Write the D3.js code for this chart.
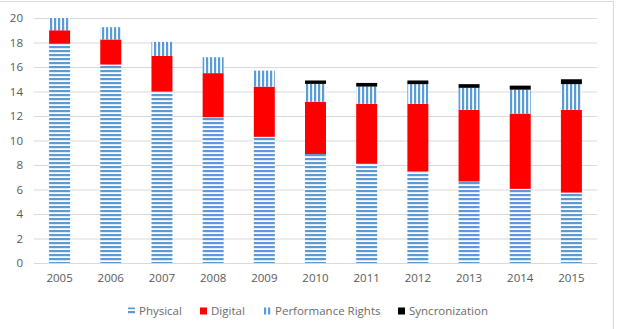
<!DOCTYPE html>
<html>
<head>
<meta charset="utf-8">
<script src="https://cdn.jsdelivr.net/npm/d3@7"></script>
<style>
  body { margin: 0; background: #fff; }
  text { font-family: "Open Sans", sans-serif; fill: #595959; }
</style>
</head>
<body>
<script>
var width = 618;
var height = 329;

// data
var years = ["2005", "2006", "2007", "2008", "2009", "2010", "2011", "2012", "2013", "2014", "2015"];
var physical = [17.9, 16.2, 14.0, 11.9, 10.3, 8.9, 8.1, 7.5, 6.65, 6.05, 5.75];
var digital = [1.1, 2.05, 2.9, 3.6, 4.1, 4.27, 4.9, 5.5, 5.85, 6.15, 6.75];
var performance = [1.0, 1.0, 1.15, 1.3, 1.3, 1.45, 1.4, 1.6, 1.8, 1.95, 2.1];
var sync = [0, 0, 0, 0, 0, 0.28, 0.3, 0.3, 0.3, 0.33, 0.4];
var seriesNames = ["Physical", "Digital", "Performance Rights", "Syncronization"];
var yTicks = [0, 2, 4, 6, 8, 10, 12, 14, 16, 18, 20];

var rows = years.map(function (y, i) {
  return { year: y, Physical: physical[i], Digital: digital[i], "Performance Rights": performance[i], Syncronization: sync[i] };
});

var svg = d3.select("body").append("svg").attr("width", width).attr("height", height);

// patterns
var defs = svg.append("defs");
var ph = defs.append("pattern").attr("id", "hstripe").attr("patternUnits", "userSpaceOnUse")
  .attr("width", 4).attr("height", 4);
ph.append("rect").attr("width", 4).attr("height", 4).attr("fill", "#fff");
ph.append("rect").attr("y", 0).attr("width", 4).attr("height", 2.2).attr("fill", "#5b9bd5");
var pv = defs.append("pattern").attr("id", "vstripe").attr("patternUnits", "userSpaceOnUse")
  .attr("width", 4).attr("height", 4);
pv.append("rect").attr("width", 4).attr("height", 4).attr("fill", "#fff");
pv.append("rect").attr("x", 0).attr("width", 2.2).attr("height", 4).attr("fill", "#5b9bd5");

var fills = {
  "Physical": "url(#hstripe)",
  "Digital": "#ff0000",
  "Performance Rights": "url(#vstripe)",
  "Syncronization": "#000"
};

// chart border
svg.append("rect").attr("x", -1).attr("y", 1.5).attr("width", 614.5).attr("height", 340)
  .attr("fill", "none").attr("stroke", "#d9d9d9");

var margin = { top: 18, left: 34, right: 21, bottom: 66 };
var plotW = width - margin.left - margin.right;
var plotH = height - margin.top - margin.bottom;

var g = svg.append("g").attr("transform", "translate(" + margin.left + "," + margin.top + ")");

var x = d3.scaleBand().domain(years).range([0, plotW]).paddingInner(0.59).paddingOuter(0.295);
var y = d3.scaleLinear().domain([0, 20]).range([plotH, 0]);

// gridlines
g.append("g").selectAll("line").data(yTicks).join("line")
  .attr("x1", 0).attr("x2", plotW)
  .attr("y1", function (d) { return y(d) + 0.5; }).attr("y2", function (d) { return y(d) + 0.5; })
  .attr("stroke", "#d9d9d9");

var yAxis = g.append("g").call(d3.axisLeft(y).tickValues(yTicks).tickSize(0).tickPadding(11));
yAxis.select(".domain").remove();
yAxis.selectAll("text").attr("font-size", 11.5).style("font-family", "'Open Sans', sans-serif").attr("fill", "#6b6b6b");

var xAxis = g.append("g").attr("transform", "translate(0," + plotH + ")")
  .call(d3.axisBottom(x).tickSize(0).tickPadding(11));
xAxis.select(".domain").remove();
xAxis.selectAll("text").attr("font-size", 11.5).style("font-family", "'Open Sans', sans-serif").attr("fill", "#6b6b6b");

var stack = d3.stack().keys(seriesNames)(rows);

g.append("g").selectAll("g").data(stack).join("g")
  .attr("fill", function (d) { return fills[d.key]; })
  .selectAll("rect").data(function (d) { return d; }).join("rect")
  .attr("x", function (d) { return x(d.data.year); })
  .attr("width", x.bandwidth())
  .attr("y", function (d) { return y(d[1]); })
  .attr("height", function (d) { return y(d[0]) - y(d[1]); });

// legend
var legendX = [128, 200, 264, 398];
var legend = svg.append("g").attr("transform", "translate(0,311)");
var item = legend.selectAll("g").data(seriesNames).join("g")
  .attr("transform", function (d, i) { return "translate(" + legendX[i] + ",0)"; });
item.append("rect").attr("x", 0).attr("y", -3.5).attr("width", 7).attr("height", 7)
  .attr("fill", function (d) { return fills[d]; });
item.append("text").attr("x", 11).attr("y", 4).attr("font-size", 11.5).attr("fill", "#6b6b6b")
  .style("fill", "#6b6b6b").text(function (d) { return d; });
</script>
</body>
</html>
